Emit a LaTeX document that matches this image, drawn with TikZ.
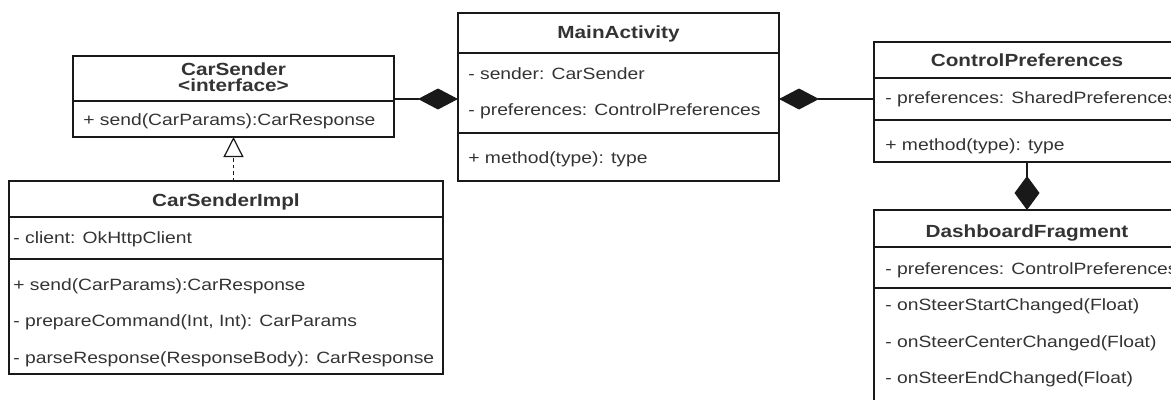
\documentclass[tikz,border=0pt]{standalone}
\usepackage{fontspec}
\setmainfont[FakeStretch=1.18]{Liberation Sans}
\usetikzlibrary{positioning,arrows.meta}
\tikzset{
  part/.style   = {rectangle, draw=black!90, line width=0.7pt, anchor=north west, inner sep=0, outer sep=0},
  cname/.style  = {anchor=base, inner sep=0, font=\bfseries, text=black!80},
  memb/.style   = {anchor=base west, inner sep=0, text=black!80},
  compo/.style  = {draw=black!90, line width=0.7pt, {Diamond[length=8mm, width=4.2mm]}-},
  compov/.style = {draw=black!90, line width=0.7pt, {Diamond[length=6.8mm, width=5mm]}-},
  realiz/.style = {draw=black!90, line width=0.7pt, dash pattern=on 0.7mm off 0.6mm, -{Triangle[open, length=4mm, width=4mm]}}
}

\begin{document}
\begin{tikzpicture}[x=0.2mm, y=-0.2mm, font=\fontsize{9.3pt}{11pt}\selectfont]
  \clip (0,0) rectangle (1171,399);

  % ---- CarSender ----
  \node[part, minimum width=64.2mm, minimum height=9mm]   (sndH) at (73,56) {};
  \node[part, minimum width=64.2mm, minimum height=7.2mm] (sndM) at (sndH.south west) {};
  \node[cname] (sndN) at (233.5,75) {CarSender};
  \node[cname] (sndI) at (233.5,92) {<interface>};
  \node[memb]  (snd1) at (83,125)   {+ send(CarParams):CarResponse};

  % ---- CarSenderImpl ----
  \node[part, minimum width=86.8mm, minimum height=7.2mm] (implH) at (9,181) {};
  \node[part, minimum width=86.8mm, minimum height=8.4mm] (implA) at (implH.south west) {};
  \node[part, minimum width=86.8mm, minimum height=23mm]  (implM) at (implA.south west) {};
  \node[cname] (implN) at (226,206) {CarSenderImpl};
  \node[memb]  (impl1) at (13,243)  {- client: OkHttpClient};
  \node[memb]  (impl2) at (13,290)  {+ send(CarParams):CarResponse};
  \node[memb]  (impl3) at (13,326)  {- prepareCommand(Int, Int): CarParams};
  \node[memb]  (impl4) at (13,363)  {- parseResponse(ResponseBody): CarResponse};

  % ---- MainActivity ----
  \node[part, minimum width=64.2mm, minimum height=8mm]   (mainH) at (458,13) {};
  \node[part, minimum width=64.2mm, minimum height=16mm]  (mainA) at (mainH.south west) {};
  \node[part, minimum width=64.2mm, minimum height=9.6mm] (mainM) at (mainA.south west) {};
  \node[cname] (mainN) at (618.5,39) {MainActivity};
  \node[memb]  (main1) at (468,80)   {- sender: CarSender};
  \node[memb]  (main2) at (468,115)  {- preferences: ControlPreferences};
  \node[memb]  (main3) at (468,163)  {+ method(type): type};

  % ---- ControlPreferences ----
  \node[part, minimum width=61.2mm, minimum height=7.2mm] (prefH) at (874,42) {};
  \node[part, minimum width=61.2mm, minimum height=8.4mm] (prefA) at (prefH.south west) {};
  \node[part, minimum width=61.2mm, minimum height=8.4mm] (prefM) at (prefA.south west) {};
  \node[cname] (prefN) at (1027,67) {ControlPreferences};
  \node[memb]  (pref1) at (885,104) {- preferences: SharedPreferences};
  \node[memb]  (pref2) at (885,150) {+ method(type): type};

  % ---- DashboardFragment ----
  \node[part, minimum width=61.2mm, minimum height=7.4mm] (dashH) at (874,210) {};
  \node[part, minimum width=61.2mm, minimum height=8.2mm] (dashA) at (dashH.south west) {};
  \node[part, minimum width=61.2mm, minimum height=26mm]  (dashM) at (dashA.south west) {};
  \node[cname] (dashN) at (1027,237) {DashboardFragment};
  \node[memb]  (dash1) at (885,274) {- preferences: ControlPreferences};
  \node[memb]  (dash2) at (885,310) {- onSteerStartChanged(Float)};
  \node[memb]  (dash3) at (885,347) {- onSteerCenterChanged(Float)};
  \node[memb]  (dash4) at (885,383) {- onSteerEndChanged(Float)};

  % ---- links ----
  \draw[compo]  (mainA.west |- prefA.west) -- (sndH.east |- prefA.west);
  \draw[compo]  (mainA.east |- prefA.west) -- (prefA.west);
  \draw[compov] (dashH.north) -- (prefM.south);
  \draw[realiz] (sndM.south |- implH.north) -- (sndM.south);

\end{tikzpicture}
\end{document}
